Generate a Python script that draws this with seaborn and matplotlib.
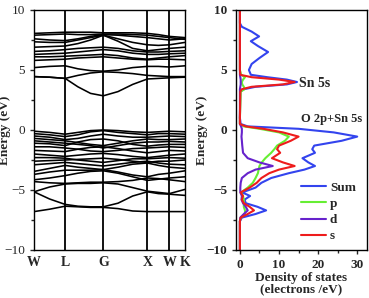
import numpy as np
import pandas as pd
import matplotlib
matplotlib.use("Agg")
import matplotlib.pyplot as plt
import seaborn as sns
from matplotlib.ticker import MultipleLocator

# high symmetry path (fcc, units of 2pi/a): W L G X W K
kpoint_labels = ["W", "L", "G", "X", "W", "K"]
kpoint_pos = [0.0, 0.707, 1.573, 2.573, 3.073, 3.427]
# sample points along path: W, mid, L, 1/3, 2/3, G, 1/3, 2/3, X, mid, W, K
k_nodes = [0.0, 0.354, 0.707, 0.996, 1.284, 1.573, 1.906, 2.240, 2.573, 2.823, 3.073, 3.427]

# band energies (eV) read at the nodes above
valence_bands = [
    [-0.10, -0.20, -0.35, -0.20, -0.05, 0.00, -0.05, -0.15, -0.20, -0.15, -0.10, -0.15],
    [-0.30, -0.40, -0.55, -0.40, -0.15, -0.05, -0.20, -0.30, -0.40, -0.30, -0.30, -0.35],
    [-0.50, -0.60, -0.80, -0.70, -0.50, -0.35, -0.50, -0.60, -0.60, -0.55, -0.50, -0.55],
    [-0.70, -0.80, -0.90, -1.05, -1.20, -1.30, -1.10, -0.90, -0.75, -0.80, -0.80, -0.75],
    [-0.90, -1.00, -1.10, -1.20, -1.30, -1.50, -1.30, -1.10, -1.00, -1.00, -0.95, -1.00],
    [-1.10, -1.15, -1.30, -1.00, -0.80, -0.75, -0.90, -1.20, -1.35, -1.25, -1.20, -1.20],
    [-1.40, -1.40, -1.50, -1.60, -1.75, -1.80, -1.70, -1.55, -1.50, -1.45, -1.40, -1.45],
    [-1.70, -1.75, -1.80, -1.60, -1.45, -1.40, -1.55, -1.75, -1.90, -1.80, -1.70, -1.75],
    [-2.00, -2.10, -2.20, -2.10, -2.00, -1.95, -2.05, -2.20, -2.30, -2.20, -2.10, -2.00],
    [-2.30, -2.30, -2.35, -2.50, -2.60, -2.70, -2.55, -2.40, -2.40, -2.35, -2.30, -2.35],
    [-2.60, -2.55, -2.50, -2.45, -2.40, -2.35, -2.45, -2.60, -2.70, -2.60, -2.60, -2.50],
    [-2.90, -2.80, -2.70, -2.80, -2.90, -3.00, -2.85, -2.70, -2.60, -2.75, -2.85, -2.90],
    [-3.45, -3.20, -2.95, -3.10, -3.20, -3.30, -3.10, -2.85, -2.75, -2.95, -3.10, -3.20],
    [-3.70, -3.50, -3.35, -3.35, -3.35, -3.30, -3.50, -3.75, -3.90, -3.70, -3.60, -3.40],
    [-4.15, -4.00, -3.80, -3.60, -3.45, -3.40, -3.60, -3.90, -4.20, -4.10, -4.00, -3.90],
    [-4.30, -4.40, -4.45, -4.40, -4.35, -4.35, -4.30, -4.20, -4.00, -4.05, -4.15, -4.30],
    [-5.15, -4.75, -4.50, -4.45, -4.45, -4.40, -4.50, -4.80, -5.10, -5.20, -5.30, -4.95],
    [-5.15, -5.75, -6.20, -6.35, -6.40, -6.40, -6.10, -5.50, -5.15, -5.30, -5.35, -5.45],
    [-6.80, -6.60, -6.35, -6.40, -6.45, -6.45, -6.55, -6.75, -6.80, -6.80, -6.80, -6.80],
]
conduction_bands = [
    [4.45, 4.40, 4.30, 3.60, 3.05, 2.85, 3.20, 3.80, 4.25, 4.30, 4.35, 4.40],
    [4.45, 4.40, 4.30, 4.55, 4.75, 4.85, 4.80, 4.70, 4.55, 4.50, 4.45, 4.45],
    [5.20, 5.30, 5.35, 5.10, 4.95, 4.90, 5.00, 5.20, 5.30, 5.30, 5.25, 5.35],
    [5.80, 5.85, 5.90, 6.00, 6.05, 6.10, 6.00, 5.90, 5.85, 5.90, 5.90, 5.85],
    [6.10, 6.10, 6.15, 6.20, 6.25, 6.30, 6.20, 6.00, 5.90, 6.00, 6.10, 6.20],
    [6.30, 6.35, 6.40, 6.50, 6.60, 6.70, 6.60, 6.40, 6.30, 6.30, 6.35, 6.40],
    [6.55, 6.60, 6.70, 6.80, 6.85, 6.90, 6.80, 6.60, 6.50, 6.50, 6.55, 6.60],
    [6.90, 6.95, 7.00, 7.20, 7.50, 7.90, 7.40, 6.80, 6.60, 6.70, 6.80, 6.90],
    [7.35, 7.30, 7.30, 7.50, 7.70, 7.90, 7.60, 7.30, 7.10, 7.05, 7.10, 7.30],
    [7.60, 7.50, 7.45, 7.60, 7.80, 7.95, 7.90, 7.80, 7.70, 7.60, 7.50, 7.60],
    [8.05, 8.10, 8.15, 8.15, 8.15, 8.10, 8.10, 8.10, 8.05, 7.95, 7.80, 7.70],
    [7.90, 7.95, 8.00, 7.95, 7.95, 8.00, 8.00, 7.95, 7.90, 7.80, 7.70, 7.55],
]

# density of states (electrons/eV) on a shared energy grid
dos_energy = [10, 8.9, 8.6, 8.2, 7.8, 7.4, 7.0, 6.5, 6.0, 5.5, 5.0, 4.6, 4.4, 4.2, 4.0,
              3.8, 3.6, 3.4, 3.2, 1.0, 0.5, 0.3, 0.1, -0.2, -0.55, -0.9, -1.3, -1.6, -1.9,
              -2.35, -2.7, -3.0, -3.3, -3.6, -4.0, -4.4, -4.8, -5.2, -5.5, -5.8, -6.1,
              -6.4, -6.7, -7.0, -7.3, -7.6, -10]
dos_sum = [0, 0, 0.5, 3.0, 4.9, 2.8, 4.6, 7.2, 5.0, 3.0, 2.3, 2.8, 7.0, 12.0, 14.6,
           12.0, 4.0, 1.0, 0.1, 0, 0.2, 2.0, 15.0, 24.0, 30.0, 26.0, 19.0, 18.5, 19.2,
           16.0, 17.5, 19.2, 16.5, 12.5, 8.0, 5.5, 4.0, 0.6, 2.6, 1.2, 1.5,
           4.5, 6.7, 4.0, 0.5, 0, 0]
dos_p = [0, 0, 0, 0, 0, 0, 0, 0, 0, 0, 0, 0.3, 1.3, 0.8, 0.5,
         0.6, 1.0, 1.2, 0.2, 0, 0, 1.0, 5.0, 10.0, 12.5, 11.5, 9.5, 8.8, 8.0,
         6.5, 5.6, 5.0, 4.8, 4.6, 4.0, 3.3, 2.0, 0.3, 0.8, 1.0, 1.0,
         1.0, 1.3, 1.3, 0.2, 0, 0]
dos_d = [0, 0, 0, 0, 0, 0, 0, 0, 0, 0, 0, 0, 0.1, 0.2, 0.2,
         0.2, 0.1, 0, 0, 0, 0, 0.3, 0.5, 0.5, 0.4, 0.5, 0.6, 0.7, 0.8,
         2.0, 5.0, 8.4, 4.0, 2.0, 0.5, 0.2, 0.1, 0.1, 0.5, 0.4, 0.8,
         1.5, 2.0, 1.0, 0.1, 0, 0]
dos_s = [0, 0, 0, 0, 0, 0, 0, 0, 0, 0, 0, 0.1, 3.0, 10.0, 14.0,
         11.0, 3.0, 0.5, 0.1, 0, 0, 1.5, 6.0, 11.0, 15.0, 13.0, 10.0, 9.5, 10.3,
         8.2, 11.0, 14.0, 10.0, 7.5, 5.5, 4.3, 2.5, 0.2, 0.8, 0.5, 1.0,
         2.5, 3.6, 2.0, 0.2, 0, 0]

dos_names = ["Sum", "p", "d", "s"]
dos_colors = ["#3344ee", "#66ee33", "#6622cc", "#ee1c1c"]

sns.set_style("ticks")
plt.rcParams["font.family"] = ["Liberation Serif", "DejaVu Serif"]
plt.rcParams["font.weight"] = "bold"

fig = plt.figure(figsize=(3.69, 2.98), dpi=100)
ax1 = fig.add_axes([34 / 369, 48 / 298, 151 / 369, 240 / 298])
ax2 = fig.add_axes([236 / 369, 48 / 298, 131 / 369, 240 / 298])

# band structure
rows = []
for i, band in enumerate(valence_bands + conduction_bands):
    for k, e in zip(k_nodes, band):
        rows.append({"k": k, "E": e, "band": i})
bands = pd.DataFrame(rows)
sns.lineplot(data=bands, x="k", y="E", units="band", estimator=None,
             color="black", lw=1.15, sort=False, ax=ax1)
for kp in kpoint_pos[1:-1]:
    ax1.axvline(kp, color="black", lw=1.3)
ax1.set_xlim(kpoint_pos[0], kpoint_pos[-1])
ax1.set_ylim(-10, 10)
ax1.set_xticks(kpoint_pos)
ax1.set_xticklabels(kpoint_labels, fontsize=10, fontweight="bold")
ax1.tick_params(axis="x", length=0, pad=4)
ax1.yaxis.set_major_locator(MultipleLocator(5))
ax1.yaxis.set_minor_locator(MultipleLocator(2.5))
ax1.tick_params(axis="y", which="major", length=3, width=1, labelsize=9.5)
ax1.tick_params(axis="y", which="minor", length=2, width=1)
for lab in ax1.get_yticklabels():
    lab.set_fontweight("normal")
ax1.set_xlabel("")
ax1.set_ylabel("Energy (eV)", fontsize=9.5, fontweight="bold")
ax1.yaxis.set_label_coords(-0.15, 0.5)

# density of states
drows = []
for name, vals in zip(dos_names, [dos_sum, dos_p, dos_d, dos_s]):
    for e, v in zip(dos_energy, vals):
        drows.append({"energy": e, "dos": v, "component": name})
dos = pd.DataFrame(drows)
sns.lineplot(data=dos, x="dos", y="energy", hue="component", hue_order=dos_names,
             palette=dos_colors, orient="y", lw=1.5, ax=ax2)
ax2.set_xlim(-1, 32.5)
ax2.set_ylim(-10, 10)
ax2.set_xticks([0, 10, 20, 30])
ax2.xaxis.set_minor_locator(MultipleLocator(5))
ax2.yaxis.set_major_locator(MultipleLocator(5))
ax2.yaxis.set_minor_locator(MultipleLocator(2.5))
ax2.tick_params(which="major", length=3, width=1, labelsize=9.5)
ax2.tick_params(which="minor", length=2, width=1)
ax2.set_xlabel("Density of states\n(electrons /eV)", fontsize=9.5,
               fontweight="bold", labelpad=1, linespacing=0.9)
ax2.set_ylabel("Energy (eV)", fontsize=9.5, fontweight="bold")
ax2.yaxis.set_label_coords(-0.21, 0.5)
ax2.text(15.0, 3.9, "Sn 5s", fontsize=10, fontweight="bold", va="center")
ax2.text(15.6, 0.9, "O 2p+Sn 5s", fontsize=9, fontweight="bold", va="center")
ax2.legend(loc="upper left", bbox_to_anchor=(0.495, 0.285), frameon=False,
           fontsize=9.5, handlelength=1.9, handletextpad=0.3, labelspacing=0.3,
           borderaxespad=0, borderpad=0)

for ax in (ax1, ax2):
    for sp in ax.spines.values():
        sp.set_visible(True)
        sp.set_linewidth(1.0)
        sp.set_color("black")

fig.savefig("out.png", dpi=100)
